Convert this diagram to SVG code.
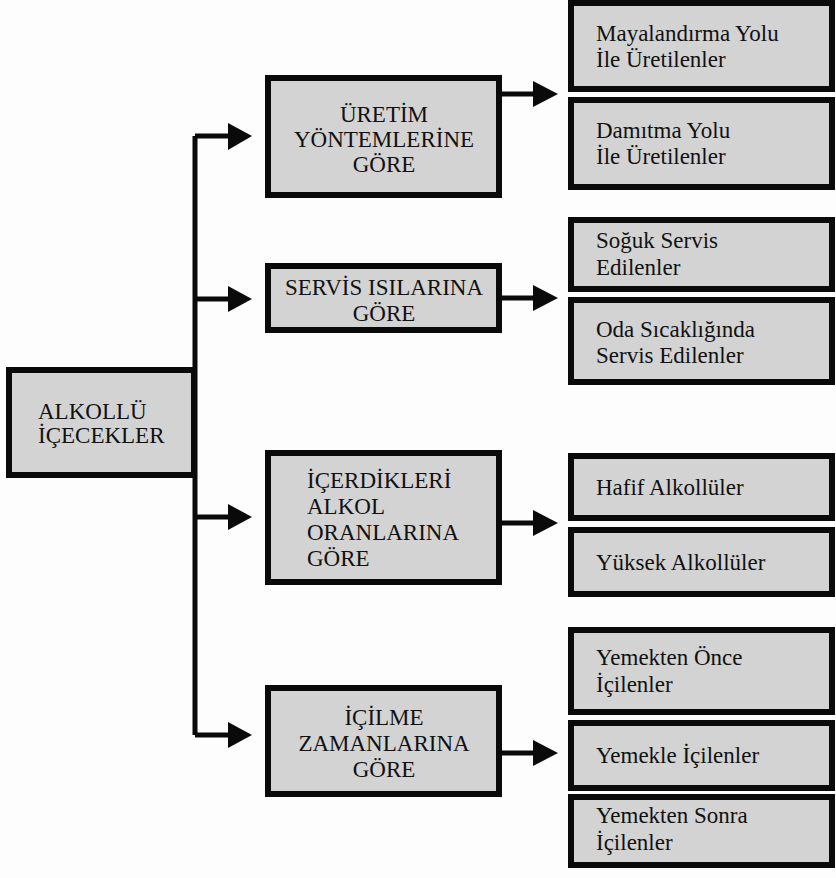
<svg xmlns="http://www.w3.org/2000/svg" width="836" height="878" viewBox="0 0 836 878">
<defs>
<style>
.box{fill:#d3d3d3;stroke:#0a0a0a;stroke-width:6}
.t{font-family:"Liberation Serif","Times New Roman",serif;font-size:23px;fill:#111}
.c{text-anchor:middle}
.ln{fill:none;stroke:#0a0a0a;stroke-width:5}
.ah{fill:#0a0a0a}
</style>
</defs>
<rect width="836" height="878" fill="#fdfdfd"/>
<g id="connectors">
<path class="ln" d="M195,136 V735 M195,136 H232 M195,299 H232 M195,517 H232 M195,735 H232"/>
<polygon class="ah" points="228,123 252,136 228,150"/>
<polygon class="ah" points="228,286 252,299 228,312"/>
<polygon class="ah" points="228,504 252,517 228,530"/>
<polygon class="ah" points="228,722 252,735 228,748"/>
<path class="ln" d="M502,94 H537 M502,298 H537 M502,523 H537 M502,753 H537"/>
<polygon class="ah" points="533,81 558,94 533,107"/>
<polygon class="ah" points="533,285 558,298 533,311"/>
<polygon class="ah" points="533,510 558,523 533,536"/>
<polygon class="ah" points="533,740 558,753 533,766"/>
</g>
<g id="root">
<rect class="box" x="9" y="370" width="185" height="105"/>
<text class="t" x="38" y="419">ALKOLLÜ</text>
<text class="t" x="38" y="443">İÇECEKLER</text>
</g>
<g id="uretim">
<rect class="box" x="268" y="78" width="231" height="117"/>
<text class="t c" x="384" y="122">ÜRETİM</text>
<text class="t c" x="384" y="147">YÖNTEMLERİNE</text>
<text class="t c" x="384" y="172">GÖRE</text>
</g>
<g id="servis">
<rect class="box" x="268" y="266" width="231" height="64"/>
<text class="t c" x="384" y="295">SERVİS ISILARINA</text>
<text class="t c" x="384" y="321">GÖRE</text>
</g>
<g id="icerdikleri">
<rect class="box" x="268" y="453" width="231" height="129"/>
<text class="t" x="307" y="488">İÇERDİKLERİ</text>
<text class="t" x="307" y="514">ALKOL</text>
<text class="t" x="307" y="540">ORANLARINA</text>
<text class="t" x="307" y="566">GÖRE</text>
</g>
<g id="icilme">
<rect class="box" x="268" y="688" width="231" height="106"/>
<text class="t c" x="384" y="725">İÇİLME</text>
<text class="t c" x="384" y="751">ZAMANLARINA</text>
<text class="t c" x="384" y="777">GÖRE</text>
</g>
<g id="mayalandirma">
<rect class="box" x="571" y="3" width="261" height="86"/>
<text class="t" x="596" y="41">Mayalandırma Yolu</text>
<text class="t" x="596" y="67">İle Üretilenler</text>
</g>
<g id="damitma">
<rect class="box" x="571" y="100" width="261" height="87"/>
<text class="t" x="596" y="138">Damıtma Yolu</text>
<text class="t" x="596" y="164">İle Üretilenler</text>
</g>
<g id="soguk">
<rect class="box" x="571" y="220" width="261" height="69"/>
<text class="t" x="596" y="248">Soğuk Servis</text>
<text class="t" x="596" y="275">Edilenler</text>
</g>
<g id="oda">
<rect class="box" x="571" y="300" width="261" height="82"/>
<text class="t" x="596" y="337">Oda Sıcaklığında</text>
<text class="t" x="596" y="363">Servis Edilenler</text>
</g>
<g id="hafif">
<rect class="box" x="571" y="456" width="261" height="62"/>
<text class="t" x="596" y="495">Hafif Alkollüler</text>
</g>
<g id="yuksek">
<rect class="box" x="571" y="530" width="261" height="64"/>
<text class="t" x="596" y="570">Yüksek Alkollüler</text>
</g>
<g id="once">
<rect class="box" x="571" y="630" width="261" height="82"/>
<text class="t" x="596" y="665">Yemekten Önce</text>
<text class="t" x="596" y="692">İçilenler</text>
</g>
<g id="yemekle">
<rect class="box" x="571" y="723" width="261" height="65"/>
<text class="t" x="596" y="763">Yemekle İçilenler</text>
</g>
<g id="sonra">
<rect class="box" x="571" y="797" width="261" height="68"/>
<text class="t" x="596" y="823">Yemekten Sonra</text>
<text class="t" x="596" y="850">İçilenler</text>
</g>
</svg>
